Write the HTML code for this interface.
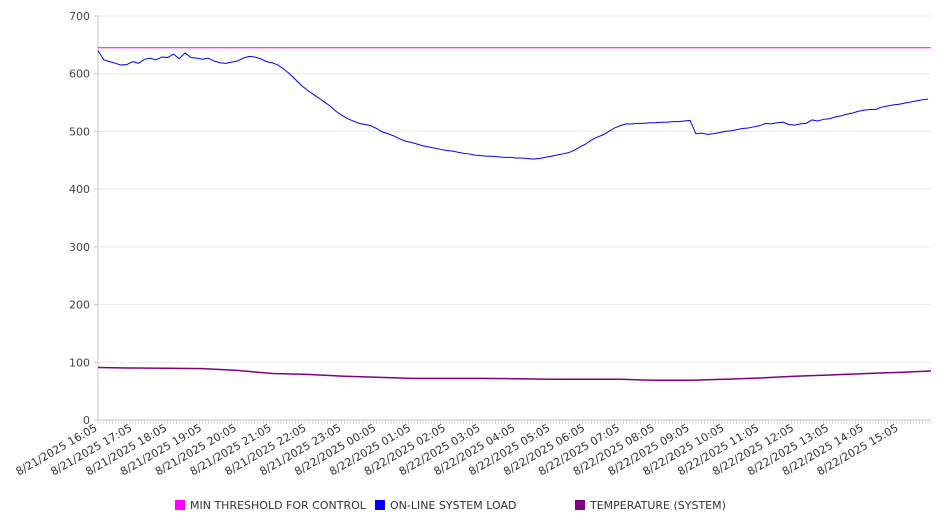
<!DOCTYPE html>
<html><head><meta charset="utf-8"><style>
body{margin:0;background:#fff;}
svg text{font-family:"DejaVu Sans","Liberation Sans",sans-serif;}
</style></head><body>
<svg id="chart" width="946" height="526" xmlns="http://www.w3.org/2000/svg">
<g id="grid"></g>
<g id="yaxis"></g>
<g id="xaxis"></g>
<g id="series"></g>
<g id="legend"></g>
</svg>
<script>
const yTicks=[0,100,200,300,400,500,600,700];
const xLabels=["8/21/2025 16:05","8/21/2025 17:05","8/21/2025 18:05","8/21/2025 19:05","8/21/2025 20:05","8/21/2025 21:05","8/21/2025 22:05","8/21/2025 23:05","8/22/2025 00:05","8/22/2025 01:05","8/22/2025 02:05","8/22/2025 03:05","8/22/2025 04:05","8/22/2025 05:05","8/22/2025 06:05","8/22/2025 07:05","8/22/2025 08:05","8/22/2025 09:05","8/22/2025 10:05","8/22/2025 11:05","8/22/2025 12:05","8/22/2025 13:05","8/22/2025 14:05","8/22/2025 15:05"];
const thresholdValue=645;
// on-line system load, every 10 minutes
const loadValues=[640,624,621,618,615,616, 621,618,625,627,624,629, 628,634,626,636,628,627, 625,627,622,619,618,620,
622,627,630,629,626,621, 619,615,608,600,590,580, 572,565,558,551,544,535, 528,522,518,514,512,510,
505,499,496,492,487,483, 481,478,475,473,471,469, 467,466,464,462,461,459, 458,457,457,456,455,455,
454,454,453,452,453,455, 457,459,461,463,467,473, 478,485,490,494,500,506, 510,513,513,514,514,515,
515,516,516,517,517,518, 519,496,497,495,496,498, 500,501,503,505,506,508, 510,514,513,515,516,512,
511,513,514,520,518,521, 522,525,527,530,532,535, 537,538,538,542,544,546, 547,549,551,553,555,556];
// temperature, hourly
const tempValues=[91,90,89.6,89,86,80.5,79,76,74,72.2,72.2,72.2,71.5,70.5,70.5,70.5,68.8,68.8,70.5,72.8,75.7,78,80.3,82.6,84.9];
const seriesNames=["MIN THRESHOLD FOR CONTROL","ON-LINE SYSTEM LOAD","TEMPERATURE (SYSTEM)"];
const seriesColors=["#ff00ff","#0000ff","#800080"];

const NS="http://www.w3.org/2000/svg";
const X0=98,X1=931,Y0=420,Y1=16,TOTAL=1435;
const xs=m=>X0+(X1-X0)*m/TOTAL;
const ys=v=>Y0-(Y0-Y1)*v/700;
function mk(tag,attrs,parent){const e=document.createElementNS(NS,tag);for(const k in attrs)e.setAttribute(k,attrs[k]);parent.appendChild(e);return e;}
const grid=document.getElementById('grid'),yax=document.getElementById('yaxis'),xax=document.getElementById('xaxis'),ser=document.getElementById('series'),leg=document.getElementById('legend');
yTicks.forEach(v=>{
 const l=mk('line',{x1:X0,x2:X1,y1:ys(v),y2:ys(v),stroke:v==0?'#c8c8c8':'#e8e8e8','stroke-width':1},grid);
 
 
 mk('line',{x1:X0-4,x2:X0,y1:ys(v),y2:ys(v),stroke:'#c8c8c8'},yax);
 const t=mk('text',{x:90,y:ys(v)+4,'text-anchor':'end','font-size':11,fill:'#444'},yax);
 t.textContent=v;
 
 
});
mk('line',{x1:X0,x2:X0,y1:Y1,y2:Y0,stroke:'#c8c8c8'},yax);
for(let m=0;m<=TOTAL;m+=5){mk('line',{x1:xs(m),x2:xs(m),y1:Y0,y2:Y0+4,stroke:'#c8c8c8','stroke-width':0.6},xax);}
xLabels.forEach((s,i)=>{
 const x=xs(i*60);
 const t=mk('text',{x:x,y:Y0+10,'text-anchor':'end','font-size':11,fill:'#333',transform:`rotate(-30 ${x} ${Y0+10})`},xax);
 t.textContent=s;
 
 
});
const th=mk('line',{x1:X0,x2:X1,y1:ys(thresholdValue),y2:ys(thresholdValue),stroke:seriesColors[0],'stroke-width':1},ser);


const lp=mk('polyline',{points:loadValues.map((v,i)=>xs(i*10)+','+ys(v)).join(' '),fill:'none',stroke:seriesColors[1],'stroke-width':1},ser);


const tp=mk('polyline',{points:tempValues.map((v,i)=>xs(Math.min(i*60,TOTAL))+','+ys(v)).join(' '),fill:'none',stroke:seriesColors[2],'stroke-width':1.5},ser);


const lx=[175,375,575];
seriesNames.forEach((n,i)=>{
 const g=mk('g',{},leg);
 
 
 mk('rect',{x:lx[i],y:500,width:10,height:10,fill:seriesColors[i]},g);
 const t=mk('text',{x:lx[i]+15,y:509,'font-size':11,fill:'#333'},g);
 t.textContent=n;
});
</script>
</body></html>
